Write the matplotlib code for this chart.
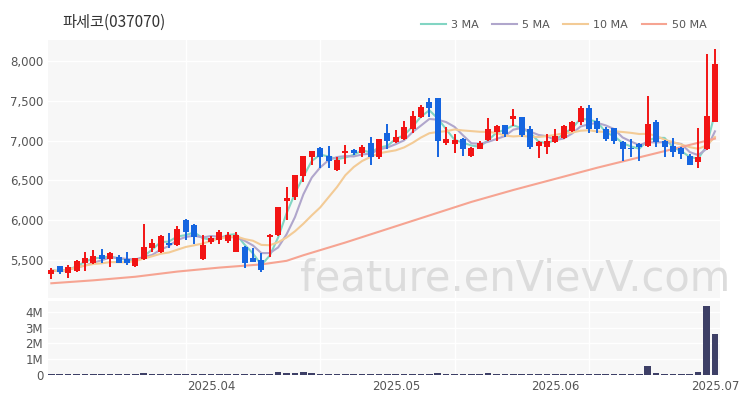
import numpy as np
import pandas as pd
import matplotlib
matplotlib.use("Agg")
import matplotlib.pyplot as plt
from matplotlib.ticker import FuncFormatter


# Daily candles (KRW), 2025-03-05 .. 2025-07-01
opens = [5330, 5420, 5333, 5366, 5460, 5466, 5562, 5508, 5541, 5508,
         5425, 5508, 5646, 5600, 5720, 5687, 6000, 5937, 5508, 5730,
         5750, 5740, 5604, 5666, 5530, 5500, 5790, 5812, 6240, 6291,
         6550, 6791, 6908, 6812, 6625, 6840, 6883, 6841, 6966, 6791,
         7091, 6979, 7020, 7145, 7300, 7479, 7533, 6966, 6960, 7020,
         6812, 6896, 7008, 7104, 7195, 7270, 7291, 7145, 6937, 6916,
         6979, 7029, 7125, 7229, 7416, 7250, 7145, 7154, 6980, 6910,
         6958, 6937, 7237, 7000, 6937, 6904, 6804, 6737, 6896, 7237]
highs = [5400, 5430, 5440, 5500, 5600, 5625, 5640, 5600, 5560, 5600,
         5530, 5950, 5760, 5810, 5835, 5925, 6010, 5950, 5810, 5800,
         5880, 5850, 5850, 5680, 5650, 5583, 5830, 6170, 6417, 6570,
         6810, 6870, 6920, 6937, 6790, 6950, 6900, 6940, 7050, 7020,
         7208, 7133, 7250, 7366, 7450, 7540, 7540, 7175, 7080, 7030,
         6920, 7000, 7283, 7200, 7200, 7395, 7300, 7187, 7000, 7083,
         7145, 7200, 7250, 7437, 7450, 7290, 7170, 7160, 6990, 7020,
         6970, 7562, 7260, 7010, 7030, 6915, 6830, 7154, 8083, 8154]
lows = [5260, 5330, 5275, 5350, 5360, 5450, 5460, 5417, 5460, 5440,
        5410, 5500, 5600, 5590, 5650, 5670, 5750, 5700, 5500, 5700,
        5700, 5710, 5600, 5400, 5470, 5350, 5540, 5800, 6008, 6250,
        6480, 6700, 6650, 6660, 6620, 6708, 6820, 6800, 6700, 6775,
        6896, 6970, 7010, 7100, 7280, 7300, 6800, 6950, 6850, 6810,
        6800, 6890, 6990, 6990, 7050, 7187, 7040, 6900, 6780, 6830,
        6970, 7020, 7110, 7200, 7100, 7100, 7000, 6960, 6750, 6790,
        6750, 6920, 6920, 6790, 6800, 6770, 6690, 6654, 6880, 7230]
closes = [5370, 5350, 5417, 5490, 5525, 5550, 5508, 5583, 5466, 5458,
          5520, 5666, 5708, 5800, 5690, 5896, 5854, 5791, 5687, 5780,
          5854, 5810, 5812, 5458, 5480, 5375, 5812, 6166, 6280, 6562,
          6804, 6866, 6800, 6741, 6758, 6866, 6841, 6925, 6791, 7020,
          6991, 7050, 7166, 7312, 7425, 7408, 7000, 7020, 7010, 6896,
          6908, 6966, 7145, 7187, 7080, 7312, 7070, 6916, 6979, 7000,
          7062, 7179, 7229, 7416, 7145, 7145, 7020, 7000, 6890, 6890,
          6916, 7208, 6979, 6916, 6854, 6833, 6696, 6791, 7304, 7958]
# volume in millions of shares
volumes = [0.05, 0.05, 0.05, 0.05, 0.06, 0.05, 0.05, 0.05, 0.05, 0.05,
           0.06, 0.15, 0.07, 0.06, 0.06, 0.06, 0.06, 0.06, 0.05, 0.05,
           0.05, 0.05, 0.05, 0.06, 0.06, 0.06, 0.07, 0.20, 0.15, 0.14,
           0.17, 0.10, 0.08, 0.07, 0.06, 0.06, 0.06, 0.06, 0.07, 0.07,
           0.09, 0.09, 0.07, 0.07, 0.07, 0.07, 0.15, 0.07, 0.06, 0.06,
           0.05, 0.06, 0.10, 0.07, 0.06, 0.09, 0.07, 0.07, 0.06, 0.05,
           0.06, 0.07, 0.08, 0.09, 0.09, 0.06, 0.06, 0.07, 0.06, 0.06,
           0.06, 0.55, 0.16, 0.07, 0.06, 0.06, 0.07, 0.22, 4.40, 2.60]

# 50-day MA (needs history before the window)
ma50_idx = [0, 5, 10, 15, 20, 25, 28, 30, 35, 40, 45, 50, 55, 60, 65, 70, 75, 79]
ma50_val = [5208, 5245, 5290, 5355, 5405, 5445, 5490, 5560, 5720, 5890,
            6060, 6230, 6380, 6520, 6660, 6790, 6920, 7025]

price_ticks = [5500, 6000, 6500, 7000, 7500, 8000]
vol_ticks = [0, 1, 2, 3, 4]
month_labels = ["2025.04", "2025.05", "2025.06", "2025.07"]

# KRX trading days
holidays = pd.to_datetime(["2025-05-01", "2025-05-05", "2025-05-06",
                           "2025-06-03", "2025-06-06"])
days = pd.bdate_range("2025-03-05", "2025-07-01")
days = days[~days.isin(holidays)]

df = pd.DataFrame({"open": opens, "high": highs, "low": lows,
                   "close": closes, "vol": volumes}, index=days)
x = np.arange(len(df))

UP = "#f21414"
DOWN = "#1565e0"
BG = "#f7f7f7"

fig = plt.figure(figsize=(7.5, 4), dpi=100)
ax = fig.add_axes([0.064, 0.255, 0.896, 0.645])
axv = fig.add_axes([0.064, 0.06, 0.896, 0.188])

for a in (ax, axv):
    a.set_facecolor(BG)
    for s in a.spines.values():
        s.set_visible(False)
    a.tick_params(length=0, labelsize=8.5, labelcolor="#555555")
    a.set_axisbelow(True)
    a.grid(axis="y", color="white", linewidth=1)
    for g in (16, 32, 48, 64):
        a.axvline(g, color="white", linewidth=1, zorder=0.5)

# moving averages
ma_styles = [(3, "#82d5c3", "3 MA"), (5, "#b0a6cc", "5 MA"),
             (10, "#f3cb96", "10 MA")]
for n, col, lab in ma_styles:
    ma = df["close"].rolling(n, min_periods=1).mean()
    ax.plot(x, ma, color=col, linewidth=1.5, label=lab, zorder=2)
ax.plot(ma50_idx, ma50_val, color="#f6a492", linewidth=1.5, label="50 MA", zorder=2)

# candles
up = df["close"] >= df["open"]
colors = np.where(up, UP, DOWN)
body = (df["close"] - df["open"]).abs().clip(lower=18)
bottom = df[["open", "close"]].min(axis=1)
ax.vlines(x, df["low"], df["high"], colors=colors, linewidth=1.4, zorder=3)
ax.bar(x, body, bottom=bottom, width=0.72, color=colors, zorder=4)

ax.set_ylim(5023, 8264)
ax.set_yticks(price_ticks)
ax.yaxis.set_major_formatter(FuncFormatter(lambda v, p: f"{v:,.0f}"))
ax.set_xlim(-0.4, 79.6)
ax.set_xticks([])

# volume
axv.bar(x, df["vol"], width=0.78, color="#3d3f66", zorder=2)
axv.set_ylim(-0.06, 4.7)
axv.set_yticks(vol_ticks)
axv.set_yticklabels(["0"] + [f"{v}M" for v in vol_ticks[1:]])
axv.set_xlim(-0.4, 79.6)
month_pos = [int(np.argmax(df.index.month == m)) for m in (4, 5, 6, 7)]
axv.set_xticks(month_pos)
axv.set_xticklabels(month_labels)
axv.tick_params(axis="x", pad=3)

# watermark
axv.text(0.695, 1.3, "feature.enVievV.com", transform=axv.transAxes,
         ha="center", va="center", fontsize=30, color="#dcdcdc",
         clip_on=False, zorder=0.8)

fig.text(0.083, 0.945, "파세코(037070)", fontsize=11, color="#333333",
         va="center", family=["Noto Sans CJK KR", "DejaVu Sans"])
ax.legend(loc="center right", bbox_to_anchor=(0.955, 0.9375),
          bbox_transform=fig.transFigure, ncol=4, frameon=False,
          fontsize=8, labelcolor="#555555", handlelength=2.2,
          columnspacing=1.2, handletextpad=0.5)

fig.savefig("out.png", dpi=100)
